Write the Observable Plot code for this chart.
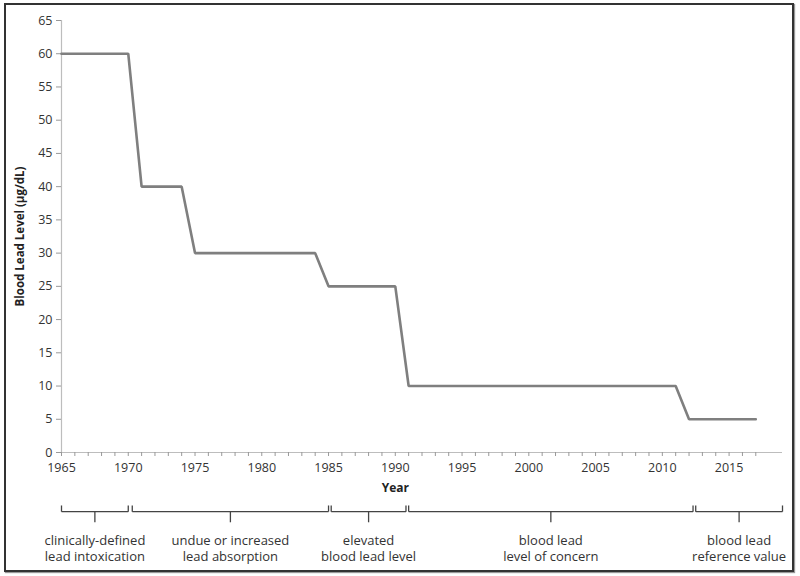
<!DOCTYPE html>
<html><head><meta charset="utf-8">
<script src="https://cdn.jsdelivr.net/npm/d3@7"></script>
<script src="https://cdn.jsdelivr.net/npm/@observablehq/plot@0.6"></script>
<style>
body{margin:0;background:#fff;}
#wrap{position:relative;width:800px;height:576px;overflow:hidden;}
#border{position:absolute;left:4px;top:3px;width:786px;height:565px;border:2px solid #333;box-shadow:1px 1px 1px #999;}
#chart{position:absolute;left:0;top:0;}
</style></head><body>
<div id="wrap"><div id="border"></div><div id="chart"></div></div>
<script>
// Step series of blood lead level thresholds (µg/dL) by year
const years  = [1965, 1970, 1971, 1974, 1975, 1984, 1985, 1990, 1991, 2011, 2012, 2017];
const levels = [60,   60,   40,   40,   30,   30,   25,   25,   10,   10,   5,    5];

// Terminology periods (bracket start/end in years)
const periodLabels = [
  "clinically-defined\nlead intoxication",
  "undue or increased\nlead absorption",
  "elevated\nblood lead level",
  "blood lead\nlevel of concern",
  "blood lead\nreference value"
];
const periodStart = [1965, 1970.3, 1985.2, 1991, 2012.5];
const periodEnd   = [1970, 1985,   1990.8, 2012.3, 2019];

// Ticks
const yTicks = [0,5,10,15,20,25,30,35,40,45,50,55,60,65];
const xTicks = [1965,1970,1975,1980,1985,1990,1995,2000,2005,2010,2015];
const xMinorTicks = d3.range(1965, 2018);

const series = years.map((y, i) => ({year: y, level: levels[i]}));
const periods = periodLabels.map((l, i) => ({
  label: l, start: periodStart[i], end: periodEnd[i], mid: (periodStart[i] + periodEnd[i]) / 2
}));

// bracket levels (below the axis, in y-scale units)
const bTop = -7.97, bMid = -8.9, bTick = -10.5, bText = -12.2;

const font = "'Open Sans', Lato, sans-serif";

const chart = Plot.plot({
  width: 800,
  height: 576,
  marginLeft: 61,
  marginRight: 18,
  marginTop: 20,
  marginBottom: 124,
  style: {fontFamily: font, fontSize: "12px", color: "#333", background: "transparent", overflow: "visible"},
  x: {domain: [1965, 2019]},
  y: {domain: [0, 65]},
  marks: [
    // axis lines
    Plot.ruleY([0], {stroke: "#bdbdbd", strokeWidth: 1.2}),
    Plot.ruleX([1965], {stroke: "#bdbdbd", strokeWidth: 1.2}),
    // y axis
    Plot.axisY({ticks: yTicks, tickSize: 5, tickPadding: 4, stroke: "#999", fill: "#333", fontSize: 12.5, label: null}),
    // x axis: minor ticks every year, labels every 5
    Plot.axisX({ticks: xMinorTicks, tickSize: 4, tickPadding: 7, stroke: "#999", fill: "#333", fontSize: 12.5, label: null,
      tickFormat: d => (xTicks.includes(d) ? String(d) : "")}),
    // titles
    Plot.text(["Blood Lead Level (µg/dL)"], {frameAnchor: "left", textAnchor: "middle", rotate: -90, dx: -41, fontWeight: "bold", fontSize: 11.5, fill: "#222"}),
    Plot.text(["Year"], {x: [1990], frameAnchor: "bottom", dy: 39, fontWeight: "bold", fontSize: 12, fill: "#222"}),
    // the step line
    Plot.line(series, {x: "year", y: "level", stroke: "#7f7f7f", strokeWidth: 2.6, strokeLinejoin: "miter"}),
    // brackets
    Plot.link(periods, {x1: "start", x2: "end", y1: bMid, y2: bMid, stroke: "#444", strokeWidth: 1.3}),
    Plot.link(periods, {x1: "start", x2: "start", y1: bTop, y2: bMid, stroke: "#444", strokeWidth: 1.3}),
    Plot.link(periods, {x1: "end", x2: "end", y1: bTop, y2: bMid, stroke: "#444", strokeWidth: 1.3}),
    Plot.link(periods, {x1: "mid", x2: "mid", y1: bMid, y2: bTick, stroke: "#444", strokeWidth: 1.3}),
    // period labels
    Plot.text(periods, {x: "mid", y: bText, text: "label", lineAnchor: "top", lineHeight: 1.25, fontSize: 13, fill: "#333"})
  ]
});
document.getElementById("chart").appendChild(chart);
</script>
</body></html>
